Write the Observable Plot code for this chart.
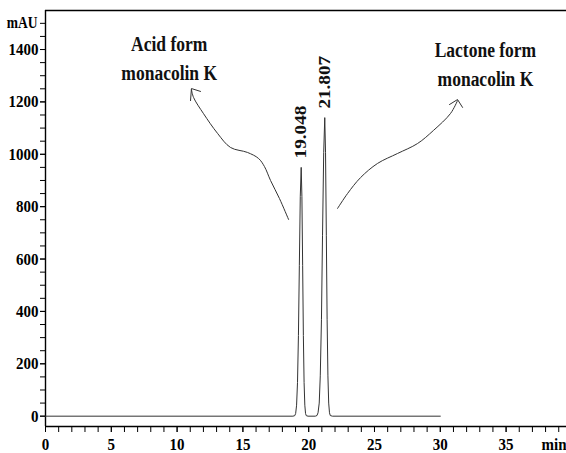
<!DOCTYPE html>
<html><head><meta charset="utf-8">
<script src="https://cdn.jsdelivr.net/npm/d3@7"></script>
<script src="https://cdn.jsdelivr.net/npm/@observablehq/plot@0.6"></script>
<style>body{margin:0;background:#fff}</style>
</head><body><div id="chart"></div>
<script>
// Chromatogram (time in min, absorbance in mAU)
const time = [0, 18.80,
  18.94, 19.01, 19.08, 19.15, 19.22, 19.29, 19.36, 19.43, 19.485, 19.54, 19.595, 19.65, 19.705, 19.76, 19.815,
  19.95, 20.50,
  20.63, 20.71, 20.80, 20.88, 20.97, 21.05, 21.14, 21.22, 21.28, 21.34, 21.40, 21.46, 21.52, 21.58, 21.64,
  21.80, 30];
const mAU = [0, 0,
  2, 10.5, 42, 129, 308, 576, 838, 950, 838, 576, 308, 129, 42, 10.5, 2,
  0, 0,
  2.5, 13, 50, 154, 370, 691, 1006, 1140, 1006, 691, 370, 154, 50, 13, 2.5,
  0, 0];

// Peak annotations
const peakTimes = [19.43, 21.22];
const peakHeights = [950, 1140];
const peakLabels = ["19.048", "21.807"];

// Compound annotations
const compoundLabels = ["Acid form\nmonacolin K", "Lactone form\nmonacolin K"];
const compoundT = [9.4, 33.43];
const compoundA = [1373, 1352];

// Hand-drawn arrows (data units)
const acidArrowT = [18.47, 17.78, 17.10, 16.64, 16.19, 15.35, 14.06, 13.07, 12.01, 11.25, 11.09];
const acidArrowA = [751, 831, 900, 953, 984, 1007, 1026, 1080, 1155, 1217, 1247];
const acidHeadT = [11.78, 11.09, 11.02];
const acidHeadA = [1240, 1251, 1205];
const lactArrowT = [22.19, 22.95, 23.94, 25.23, 26.75, 28.27, 29.48, 30.78, 31.31];
const lactArrowA = [793, 850, 911, 965, 1003, 1041, 1091, 1156, 1205];
const lactHeadT = [30.70, 31.31, 31.69];
const lactHeadA = [1190, 1209, 1179];

// Axis ticks
const xLabelTicks = [0, 5, 10, 15, 20, 25, 30, 35];
const xMinorTicks = d3.range(0, 40, 1);
const yLabelTicks = [0, 200, 400, 600, 800, 1000, 1200, 1400];
const yMinorTicks = d3.range(0, 1501, 50);
const yUnitTick = 1500, yUnitLabel = "mAU";
const xUnitTick = 37.69, xUnitLabel = "min";

const xDomain = [0, 39.59];
const yDomain = [-39.4, 1549];

const chrom = time.map((t, i) => ({t, a: mAU[i]}));
const peaks = peakTimes.map((t, i) => ({t, a: peakHeights[i], label: peakLabels[i]}));
const comps = compoundLabels.map((s, i) => ({t: compoundT[i], a: compoundA[i], s}));
const toPts = (T, A, id) => T.map((t, i) => ({t, a: A[i], id}));
const arrows = [...toPts(acidArrowT, acidArrowA, "acid"), ...toPts(lactArrowT, lactArrowA, "lact")];
const heads = [...toPts(acidHeadT, acidHeadA, "acid"), ...toPts(lactHeadT, lactHeadA, "lact")];

const chart = Plot.plot({
  width: 566, height: 453,
  marginLeft: 45, marginRight: 0, marginTop: 10, marginBottom: 27,
  style: {fontFamily: "'Liberation Serif', 'Times New Roman', serif", fontWeight: "bold", fontSize: "15px", color: "#000", background: "#fff"},
  x: {domain: xDomain, axis: null},
  y: {domain: yDomain, axis: null},
  marks: [
    Plot.ruleX([xDomain[0]], {stroke: "#000", strokeWidth: 1.4}),
    Plot.ruleY([yDomain[0]], {stroke: "#000", strokeWidth: 1.4}),
    Plot.ruleY([yDomain[1]], {stroke: "#000", strokeWidth: 1.4}),
    Plot.axisY(yMinorTicks, {tickSize: 5, tickFormat: () => "", label: null, stroke: "#000"}),
    Plot.axisY(yLabelTicks, {tickSize: 5, tickPadding: 2, fontSize: 15, label: null, tickFormat: d => String(d)}),
    Plot.text([yUnitLabel], {x: xDomain[0], y: yUnitTick, dx: -8, textAnchor: "end", fontSize: 13.5}),
    Plot.axisX(xMinorTicks, {tickSize: 6, tickFormat: () => "", label: null, stroke: "#000"}),
    Plot.axisX(xLabelTicks, {tickSize: 6, tickPadding: 5, fontSize: 15, label: null, tickFormat: d => String(d)}),
    Plot.text([xUnitLabel], {x: xUnitTick, frameAnchor: "bottom", dy: 11, lineAnchor: "top", textAnchor: "start", fontSize: 15}),
    Plot.line(chrom, {x: "t", y: "a", stroke: "#333", strokeWidth: 1}),
    Plot.text(peaks, {x: "t", y: "a", text: "label", rotate: -90, textAnchor: "start", dy: -9, fontSize: 16, fill: "#111"}),
    Plot.line(arrows, {x: "t", y: "a", z: "id", curve: "catmull-rom", stroke: "#333", strokeWidth: 1}),
    Plot.line(heads, {x: "t", y: "a", z: "id", stroke: "#333", strokeWidth: 1}),
    Plot.text(comps, {x: "t", y: "a", text: "s", fontSize: 17.5, lineHeight: 1.42, fill: "#111"})
  ]
});
// The reference typeface is vertically elongated: stretch glyphs about their anchors
d3.select(chart).selectAll("text").each(function() {
  const t = this.getAttribute("transform") || "";
  this.setAttribute("transform", t.includes("rotate") ? t + " scale(1.2,1)" : t + " scale(1,1.16)");
});
document.getElementById("chart").append(chart);
</script>
</body></html>
